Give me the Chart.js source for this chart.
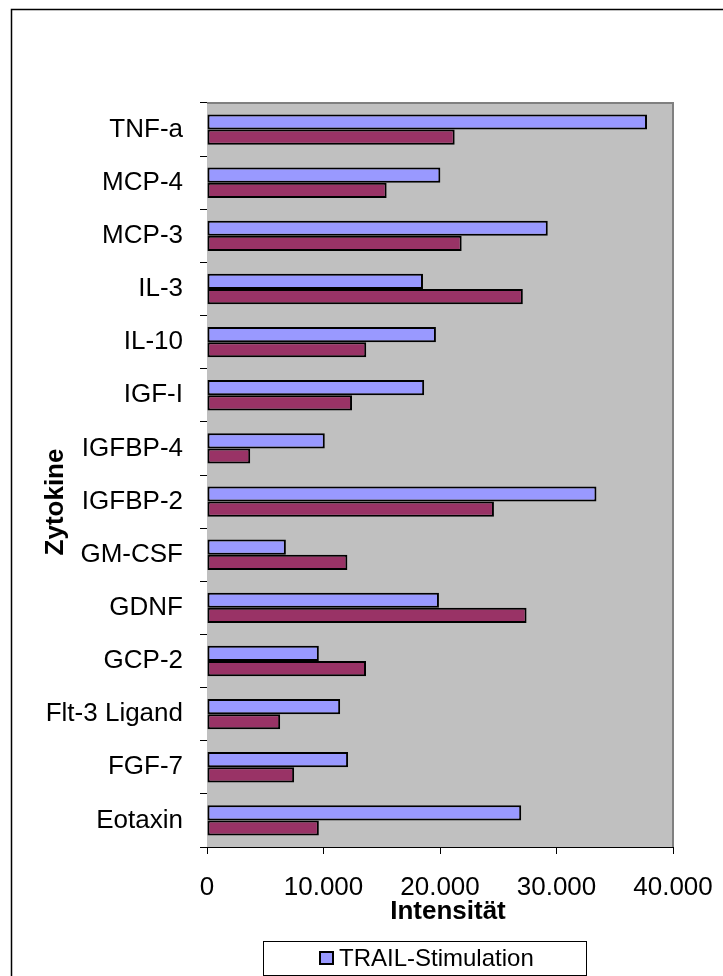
<!DOCTYPE html>
<html>
<head>
<meta charset="utf-8">
<script src="https://cdn.jsdelivr.net/npm/chart.js@4"></script>
<style>
  html, body { margin: 0; padding: 0; background: #fff; }
  canvas { display: block; }
</style>
</head>
<body>
<canvas id="zytokinChart" width="723" height="976"></canvas>
<script>
// Daten (von oben nach unten)
const zytokine = ['TNF-a', 'MCP-4', 'MCP-3', 'IL-3', 'IL-10', 'IGF-I', 'IGFBP-4',
    'IGFBP-2', 'GM-CSF', 'GDNF', 'GCP-2', 'Flt-3 Ligand', 'FGF-7', 'Eotaxin'];
const trailStimulation = [37770, 20030, 29250, 18540, 19650, 18640, 10110,
    33430, 6770, 19910, 9600, 11430, 12110, 26970];
const zweiteReihe = [21260, 15420, 21860, 27110, 13670, 12450, 3710,
    24630, 12050, 27430, 13650, 6280, 7480, 9600];
const xTicks = [0, 10000, 20000, 30000, 40000];

const FONT = "'Liberation Sans', Arial, sans-serif";

// Zahlen im deutschen Format (Tausenderpunkt)
function formatDe(v) {
    return String(v).replace(/\B(?=(\d{3})+(?!\d))/g, '.');
}

// Grauer Hintergrund der Zeichenfläche, Rahmen, Achsentitel und Legende
const excelStyle = {
    id: 'excelStyle',
    beforeDatasetsDraw(chart) {
        const { ctx, chartArea: a } = chart;
        ctx.save();
        ctx.fillStyle = '#C0C0C0';
        ctx.fillRect(a.left, a.top, a.right - a.left, a.bottom - a.top);
        ctx.strokeStyle = '#808080';
        ctx.lineWidth = 2;
        ctx.beginPath();
        ctx.moveTo(a.left, a.top);
        ctx.lineTo(a.right, a.top);
        ctx.lineTo(a.right, a.bottom);
        ctx.stroke();
        ctx.restore();
    },
    afterDraw(chart) {
        const { ctx } = chart;
        ctx.save();
        // äußerer Rahmen
        ctx.strokeStyle = '#000';
        ctx.lineWidth = 1.5;
        ctx.beginPath();
        ctx.moveTo(11.5, 976);
        ctx.lineTo(11.5, 9.5);
        ctx.lineTo(723, 9.5);
        ctx.stroke();

        // Achsentitel
        ctx.fillStyle = '#000';
        ctx.font = 'bold 26px ' + FONT;
        ctx.textAlign = 'center';
        ctx.textBaseline = 'alphabetic';
        ctx.fillText('Intensität', 448, 919);
        ctx.save();
        ctx.translate(63, 502);
        ctx.rotate(-Math.PI / 2);
        ctx.fillText('Zytokine', 0, 0);
        ctx.restore();

        // Legende (nur erste Reihe sichtbar)
        ctx.fillStyle = '#fff';
        ctx.fillRect(263.5, 941.5, 323, 34);
        ctx.strokeStyle = '#000';
        ctx.lineWidth = 1;
        ctx.strokeRect(263.5, 941.5, 323, 34);
        ctx.fillStyle = chart.data.datasets[0].backgroundColor;
        ctx.fillRect(320, 952, 13, 12);
        ctx.lineWidth = 2;
        ctx.strokeRect(320, 952, 13, 12);
        ctx.fillStyle = '#000';
        ctx.font = '24px ' + FONT;
        ctx.textAlign = 'left';
        ctx.fillText(chart.data.datasets[0].label, 339, 966);
        ctx.restore();
    }
};

new Chart(document.getElementById('zytokinChart'), {
    type: 'bar',
    data: {
        labels: zytokine,
        datasets: [
            {
                label: 'TRAIL-Stimulation',
                data: trailStimulation,
                backgroundColor: '#9999FF',
                borderColor: '#000',
                borderWidth: 2,
                borderSkipped: false
            },
            {
                label: '',
                data: zweiteReihe,
                backgroundColor: '#993366',
                borderColor: '#000',
                borderWidth: 2,
                borderSkipped: false
            }
        ]
    },
    options: {
        indexAxis: 'y',
        responsive: false,
        animation: false,
        events: [],
        categoryPercentage: 0.571,
        barPercentage: 1,
        layout: { padding: { top: 103, right: 50, left: 0, bottom: 0 } },
        plugins: {
            legend: { display: false },
            tooltip: { enabled: false }
        },
        scales: {
            x: {
                min: 0,
                max: 40000,
                afterBuildTicks(scale) {
                    scale.ticks = xTicks.map(v => ({ value: v }));
                },
                afterFit(scale) {
                    scale.height = 129;
                    scale.paddingLeft = 0;
                    scale.paddingRight = 0;
                },
                grid: { drawOnChartArea: false, tickLength: 7, color: '#000' },
                border: { color: '#000', width: 1 },
                ticks: {
                    padding: 18,
                    color: '#000',
                    font: { family: FONT, size: 26 },
                    callback: v => formatDe(v)
                }
            },
            y: {
                afterFit(scale) {
                    scale.width = 207;
                    scale.paddingTop = 0;
                    scale.paddingBottom = 0;
                },
                grid: { drawOnChartArea: false, tickLength: 7, color: '#000', offset: true },
                border: { color: '#000', width: 1 },
                ticks: {
                    padding: 17,
                    color: '#000',
                    font: { family: FONT, size: 26 }
                }
            }
        }
    },
    plugins: [excelStyle]
});
</script>
</body>
</html>
